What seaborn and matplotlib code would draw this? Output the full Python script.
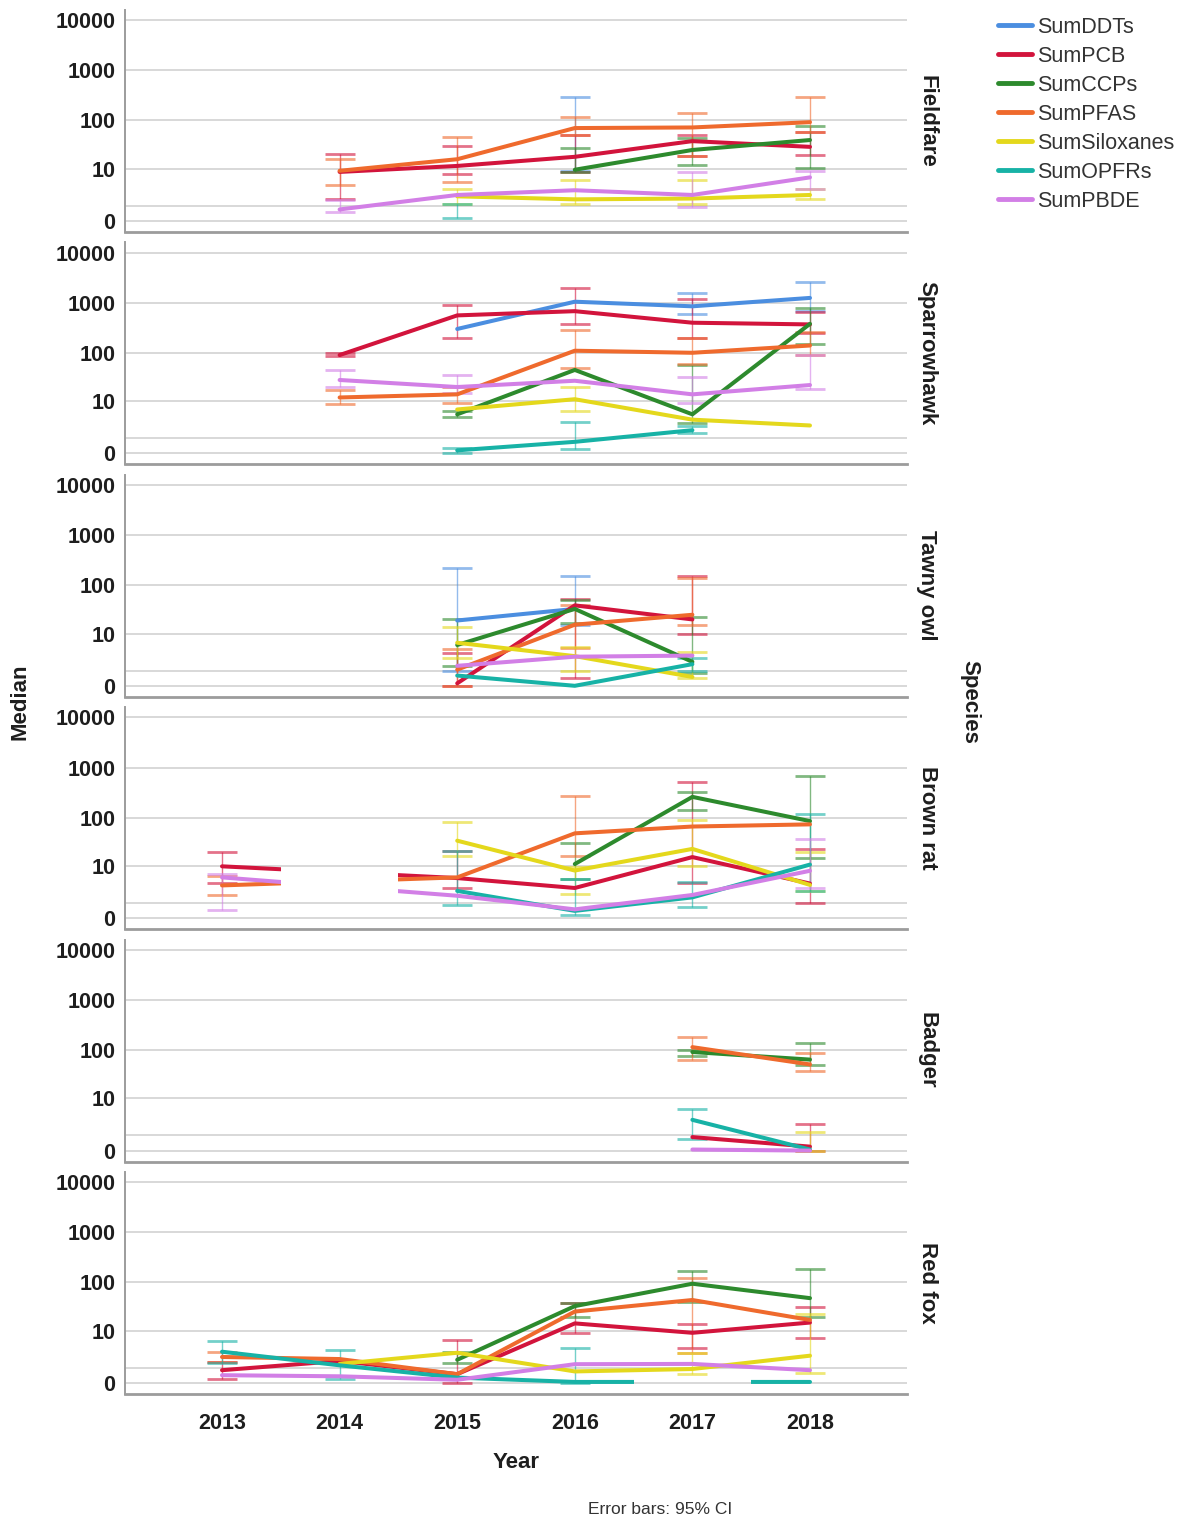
import numpy as np
import pandas as pd
import matplotlib
matplotlib.use("Agg")
import matplotlib.pyplot as plt
import seaborn as sns
from matplotlib.lines import Line2D
from matplotlib.path import Path

nan = np.nan

YEARS = [2013, 2014, 2015, 2016, 2017, 2018]
SPECIES = ["Fieldfare", "Sparrowhawk", "Tawny owl", "Brown rat", "Badger", "Red fox"]
COMPOUNDS = ["SumDDTs", "SumPCB", "SumCCPs", "SumPFAS", "SumSiloxanes", "SumOPFRs", "SumPBDE"]
PALETTE = ["#4b8ee0", "#d2143c", "#2d8a2d", "#ef6a2d", "#e4d81c", "#17b2a6", "#d27fe6"]
Y_TICKS = [0, 1, 10, 100, 1000, 10000]
Y_TICK_LABELS = ["0", "", "10", "100", "1000", "10000"]

# Median per compound (2013..2018) and the 95% CI bounds, one set per species
FIELDFARE_MED = {
    "SumDDTs": [nan, nan, nan, 60, nan, nan],
    "SumPCB": [nan, 8.5, 11.5, 18, 38, 29],
    "SumCCPs": [nan, nan, nan, 9.5, 25, 40],
    "SumPFAS": [nan, 9, 16, 70, 72, 92],
    "SumSiloxanes": [nan, nan, 2.1, 1.7, 1.8, 2.3],
    "SumOPFRs": [nan, nan, 0.5, nan, nan, nan],
    "SumPBDE": [nan, 0.7, 2.3, 3.1, 2.3, 6.4],
}
FIELDFARE_LO = {
    "SumDDTs": [nan, nan, nan, 9, nan, nan],
    "SumPCB": [nan, 1.8, 7.6, 8.5, 19, 20],
    "SumCCPs": [nan, nan, nan, 8.5, 12, 10.6],
    "SumPFAS": [nan, 4.2, 5, 50, 19, 57],
    "SumSiloxanes": [nan, nan, 1.2, 1.2, 1.2, 1.7],
    "SumOPFRs": [nan, nan, 0.17, nan, nan, nan],
    "SumPBDE": [nan, 0.5, nan, nan, 0.9, 3.4],
}
FIELDFARE_HI = {
    "SumDDTs": [nan, nan, nan, 300, nan, nan],
    "SumPCB": [nan, 21, 30, 50, 50, 57],
    "SumCCPs": [nan, nan, nan, 27, 44, 77],
    "SumPFAS": [nan, 16, 47, 116, 140, 290],
    "SumSiloxanes": [nan, nan, 3.4, 5.5, 5.5, 3.4],
    "SumOPFRs": [nan, nan, 1.15, nan, nan, nan],
    "SumPBDE": [nan, 1.6, nan, nan, 8.5, 9.0],
}

SPARROWHAWK_MED = {
    "SumDDTs": [nan, nan, 300, 1050, 850, 1250],
    "SumPCB": [nan, 90, 560, 680, 400, 370],
    "SumCCPs": [nan, nan, 5, 45, 5, 380],
    "SumPFAS": [nan, 12, 14, 110, 100, 140],
    "SumSiloxanes": [nan, nan, 6.5, 11, 3.7, 2.6],
    "SumOPFRs": [nan, nan, 0.15, 0.7, 1.9, nan],
    "SumPBDE": [nan, 28, 20, 27, 14, 22],
}
SPARROWHAWK_LO = {
    "SumDDTs": [nan, nan, nan, nan, 590, 700],
    "SumPCB": [nan, 85, 200, 380, 200, 250],
    "SumCCPs": [nan, nan, 4.4, nan, 3, 150],
    "SumPFAS": [nan, 8.6, 9.3, 50, 60, 90],
    "SumSiloxanes": [nan, nan, nan, 6, nan, nan],
    "SumOPFRs": [nan, nan, 0.0, 0.2, 1.5, nan],
    "SumPBDE": [nan, 20, 15, nan, 9, 18],
}
SPARROWHAWK_HI = {
    "SumDDTs": [nan, nan, nan, nan, 1580, 2650],
    "SumPCB": [nan, 100, 900, 1950, 1200, 660],
    "SumCCPs": [nan, nan, 6, nan, 58, 800],
    "SumPFAS": [nan, 17, 20, 290, 200, 260],
    "SumSiloxanes": [nan, nan, nan, 20, nan, nan],
    "SumOPFRs": [nan, nan, 0.3, 3.2, 2.5, nan],
    "SumPBDE": [nan, 45, 35, nan, 32, 90],
}

TAWNY_OWL_MED = {
    "SumDDTs": [nan, nan, 19, 33, nan, nan],
    "SumPCB": [nan, nan, 0.12, 39, 20, nan],
    "SumCCPs": [nan, nan, 5.5, 33, 2.0, nan],
    "SumPFAS": [nan, nan, 1.1, 15.5, 25, nan],
    "SumSiloxanes": [nan, nan, 6.2, 2.9, 0.5, nan],
    "SumOPFRs": [nan, nan, 0.6, 0.0, 1.7, nan],
    "SumPBDE": [nan, nan, 1.5, 2.8, 3.0, nan],
}
TAWNY_OWL_LO = {
    "SumDDTs": [nan, nan, 1, 15, nan, nan],
    "SumPCB": [nan, nan, 0, 0.42, 9.6, nan],
    "SumCCPs": [nan, nan, 1.5, 16.5, 0.8, nan],
    "SumPFAS": [nan, nan, 0, 4.6, 15, nan],
    "SumSiloxanes": [nan, nan, 2.5, 1, 0.4, nan],
    "SumOPFRs": [nan, nan, nan, nan, 1.0, nan],
    "SumPBDE": [nan, nan, nan, nan, nan, nan],
}
TAWNY_OWL_HI = {
    "SumDDTs": [nan, nan, 220, 150, nan, nan],
    "SumPCB": [nan, nan, 3.6, 53, 150, nan],
    "SumCCPs": [nan, nan, 20, 50, 23, nan],
    "SumPFAS": [nan, nan, 4.3, 40, 140, nan],
    "SumSiloxanes": [nan, nan, 14, 5, 3.7, nan],
    "SumOPFRs": [nan, nan, nan, nan, 2.5, nan],
    "SumPBDE": [nan, nan, nan, nan, nan, nan],
}

BROWN_RAT_MED = {
    "SumDDTs": [nan, nan, nan, nan, nan, nan],
    "SumPCB": [9.8, nan, 5.3, 3.0, 15.5, 3.9],
    "SumCCPs": [nan, nan, nan, 11, 260, 85],
    "SumPFAS": [3.5, nan, 5.5, 48, 66, 73],
    "SumSiloxanes": [nan, nan, 34, 7.9, 23, 3.6],
    "SumOPFRs": [nan, nan, 2.5, 0.4, 1.6, 10.7],
    "SumPBDE": [5.5, nan, 1.8, 0.5, 1.9, 7.8],
}
BROWN_RAT_LO = {
    "SumDDTs": [nan, nan, nan, nan, nan, nan],
    "SumPCB": [4, nan, 3, nan, 4, 1.05],
    "SumCCPs": [nan, nan, nan, 5, 143, 15],
    "SumPFAS": [1.9, nan, nan, 16, nan, nan],
    "SumSiloxanes": [nan, nan, 16, 2, 10, 2.5],
    "SumOPFRs": [nan, nan, 0.85, 0.15, 0.7, 2.5],
    "SumPBDE": [0.45, nan, nan, nan, nan, 3],
}
BROWN_RAT_HI = {
    "SumDDTs": [nan, nan, nan, nan, nan, nan],
    "SumPCB": [20, nan, 21, nan, 520, 23],
    "SumCCPs": [nan, nan, nan, 30, 325, 670],
    "SumPFAS": [6, nan, nan, 270, nan, nan],
    "SumSiloxanes": [nan, nan, 81, 9.5, 90, 20],
    "SumOPFRs": [nan, nan, 21, 5, 4.3, 120],
    "SumPBDE": [6.6, nan, nan, nan, nan, 37],
}

BADGER_MED = {
    "SumDDTs": [nan, nan, nan, nan, nan, nan],
    "SumPCB": [nan, nan, nan, nan, 0.86, 0.2],
    "SumCCPs": [nan, nan, nan, nan, 91, 64],
    "SumPFAS": [nan, nan, nan, nan, 114, 51],
    "SumSiloxanes": [nan, nan, nan, nan, nan, 0.3],
    "SumOPFRs": [nan, nan, nan, nan, 3.1, 0.05],
    "SumPBDE": [nan, nan, nan, nan, 0.05, 0.0],
}
BADGER_LO = {
    "SumDDTs": [nan, nan, nan, nan, nan, nan],
    "SumPCB": [nan, nan, nan, nan, nan, 0],
    "SumCCPs": [nan, nan, nan, nan, 75, 50],
    "SumPFAS": [nan, nan, nan, nan, 62, 37],
    "SumSiloxanes": [nan, nan, nan, nan, nan, 0],
    "SumOPFRs": [nan, nan, nan, nan, 0.7, nan],
    "SumPBDE": [nan, nan, nan, nan, nan, nan],
}
BADGER_HI = {
    "SumDDTs": [nan, nan, nan, nan, nan, nan],
    "SumPCB": [nan, nan, nan, nan, nan, 2.4],
    "SumCCPs": [nan, nan, nan, nan, 100, 137],
    "SumPFAS": [nan, nan, nan, nan, 180, 86],
    "SumSiloxanes": [nan, nan, nan, nan, nan, 1.4],
    "SumOPFRs": [nan, nan, nan, nan, 5.6, nan],
    "SumPBDE": [nan, nan, nan, nan, nan, nan],
}

RED_FOX_MED = {
    "SumDDTs": [nan, nan, nan, nan, nan, nan],
    "SumPCB": [0.8, 1.75, 0.5, 14.4, 9, 15],
    "SumCCPs": [nan, nan, 1.9, 33, 94, 48],
    "SumPFAS": [2.3, 2.0, 0.5, 25.5, 44, 17],
    "SumSiloxanes": [nan, 1.4, 3.0, 0.7, 0.9, 2.5],
    "SumOPFRs": [3.2, 1.25, 0.28, 0.05, nan, 0.05],
    "SumPBDE": [0.43, 0.36, 0.16, 1.37, 1.4, 0.8],
}
RED_FOX_LO = {
    "SumDDTs": [nan, nan, nan, nan, nan, nan],
    "SumPCB": [0.2, nan, 0, 9, 4, 7],
    "SumCCPs": [nan, nan, 1.5, 20, 40, 20],
    "SumPFAS": [1.6, nan, nan, nan, 3, nan],
    "SumSiloxanes": [nan, nan, nan, nan, 0.5, 0.6],
    "SumOPFRs": [1.5, 0.2, nan, 0, nan, nan],
    "SumPBDE": [nan, nan, nan, nan, nan, nan],
}
RED_FOX_HI = {
    "SumDDTs": [nan, nan, nan, nan, nan, nan],
    "SumPCB": [1.6, nan, 6.1, 38, 14, 32],
    "SumCCPs": [nan, nan, 3.2, 38, 170, 187],
    "SumPFAS": [3.2, nan, nan, nan, 125, nan],
    "SumSiloxanes": [nan, nan, nan, nan, 3, 23],
    "SumOPFRs": [5.9, 3.5, nan, 3.9, nan, nan],
    "SumPBDE": [nan, nan, nan, nan, nan, nan],
}

PANELS = {
    "Fieldfare": (FIELDFARE_MED, FIELDFARE_LO, FIELDFARE_HI),
    "Sparrowhawk": (SPARROWHAWK_MED, SPARROWHAWK_LO, SPARROWHAWK_HI),
    "Tawny owl": (TAWNY_OWL_MED, TAWNY_OWL_LO, TAWNY_OWL_HI),
    "Brown rat": (BROWN_RAT_MED, BROWN_RAT_LO, BROWN_RAT_HI),
    "Badger": (BADGER_MED, BADGER_LO, BADGER_HI),
    "Red fox": (RED_FOX_MED, RED_FOX_LO, RED_FOX_HI),
}

rows = []
for sp, (med, lo, hi) in PANELS.items():
    for comp in COMPOUNDS:
        for k, yr in enumerate(YEARS):
            rows.append((sp, comp, yr, med[comp][k], lo[comp][k], hi[comp][k]))
df = pd.DataFrame(rows, columns=["Species", "Compound", "Year", "Median", "Lo", "Hi"])


def safe_log(v):
    v = np.asarray(v, dtype=float)
    return np.sign(v) * np.log10(1.0 + np.abs(v))


def safe_log_inv(t):
    t = np.asarray(t, dtype=float)
    return np.sign(t) * (10.0 ** np.abs(t) - 1.0)


sns.set_style("white")
plt.rcParams["font.family"] = ["Liberation Sans", "DejaVu Sans"]

W, H = 1189, 1524
fig = plt.figure(figsize=(W / 100, H / 100), dpi=100)

AX_LEFT, AX_RIGHT = 125, 907
TOP0, PANEL_H, PITCH = 10, 222, 232.4
GRID_C = "#d6d6d6"
AXIS_C = "#9c9c9c"
TEXT_C = "#1e1e1e"

for i, sp in enumerate(SPECIES):
    y_top = TOP0 + i * PITCH
    ax = fig.add_axes([AX_LEFT / W, 1 - (y_top + PANEL_H) / H,
                       (AX_RIGHT - AX_LEFT) / W, PANEL_H / H])
    ax.set_yscale("function", functions=(safe_log, safe_log_inv))

    sub = df[df["Species"] == sp]
    for comp, col in zip(COMPOUNDS, PALETTE):
        d = sub[sub["Compound"] == comp]
        # 95% CI error bars
        e = d.dropna(subset=["Median", "Lo", "Hi"])
        if len(e):
            ax.errorbar(e["Year"], e["Median"],
                        yerr=[np.maximum(e["Median"] - e["Lo"], 0),
                              np.maximum(e["Hi"] - e["Median"], 0)],
                        fmt="none", ecolor=col, elinewidth=1.0, capsize=11,
                        capthick=2.0, alpha=0.6, zorder=2)
        m = d.dropna(subset=["Median"])
        if len(m) < 2:
            continue
        n_before = len(ax.lines)
        sns.lineplot(data=m, x="Year", y="Median", ax=ax, color=col, lw=2.9,
                     estimator=None, errorbar=None, legend=False, zorder=3)
        line = ax.lines[n_before]
        line.set_solid_joinstyle("round")
        # a missing year leaves a break spanning that year's category band
        yrs = m["Year"].to_numpy()
        gaps = [(a, b) for a, b in zip(yrs[:-1], yrs[1:]) if b - a > 1]
        if gaps:
            edges = [2000.0]
            for a, b in gaps:
                edges += [a + 0.5, b - 0.5]
            edges.append(2030.0)
            verts, codes = [], []
            for x0, x1 in zip(edges[::2], edges[1::2]):
                verts += [(x0, -0.65), (x1, -0.65), (x1, 1e6), (x0, 1e6), (x0, -0.65)]
                codes += [Path.MOVETO, Path.LINETO, Path.LINETO, Path.LINETO, Path.CLOSEPOLY]
            line.set_clip_path(Path(verts, codes), ax.transData)

    ax.set_ylim(-0.656, 15960)
    ax.set_xlim(2012.175, 2018.825)
    ax.set_yticks(Y_TICKS)
    ax.set_yticklabels(Y_TICK_LABELS)
    ax.minorticks_off()
    ax.set_xticks(YEARS)
    ax.grid(axis="y", color=GRID_C, lw=1.3)
    ax.grid(axis="x", visible=False)
    ax.set_axisbelow(True)
    for s in ("top", "right"):
        ax.spines[s].set_visible(False)
    ax.spines["left"].set_color(AXIS_C)
    ax.spines["left"].set_linewidth(1.4)
    ax.spines["bottom"].set_color(AXIS_C)
    ax.spines["bottom"].set_linewidth(2.0)
    ax.tick_params(axis="both", length=0, pad=7, labelsize=15.5, labelcolor=TEXT_C)
    for lab in ax.get_yticklabels():
        lab.set_fontweight("bold")
    if i < len(SPECIES) - 1:
        ax.set_xticklabels([])
    else:
        ax.set_xticklabels([str(y) for y in YEARS], fontweight="bold")
        ax.tick_params(axis="x", pad=14)
    ax.set_xlabel("")
    ax.set_ylabel("")

    fig.text(927 / W, 1 - (y_top + PANEL_H / 2) / H, sp, rotation=270,
             ha="center", va="center", fontsize=16, fontweight="bold", color=TEXT_C)

fig.text(20 / W, 1 - 702 / H, "Median", rotation=90, ha="center", va="center",
         fontsize=16, fontweight="bold", color=TEXT_C)
fig.text(970 / W, 1 - 702 / H, "Species", rotation=270, ha="center", va="center",
         fontsize=16, fontweight="bold", color=TEXT_C)
fig.text(516 / W, 1 - 1462 / H, "Year", ha="center", va="center",
         fontsize=16, fontweight="bold", color=TEXT_C)
fig.text(660 / W, 1 - 1510 / H, "Error bars: 95% CI", ha="center", va="center",
         fontsize=12.5, color="#333333")

handles = [Line2D([0], [0], color=c, lw=3.5) for c in PALETTE]
fig.legend(handles, COMPOUNDS, loc="upper left",
           bbox_to_anchor=(998 / W, 1 - 17 / H), frameon=False,
           fontsize=15.5, handlelength=1.6, handletextpad=0.2,
           labelspacing=0.37, borderpad=0, borderaxespad=0,
           labelcolor="#333333")

fig.savefig("out.png", dpi=100)
